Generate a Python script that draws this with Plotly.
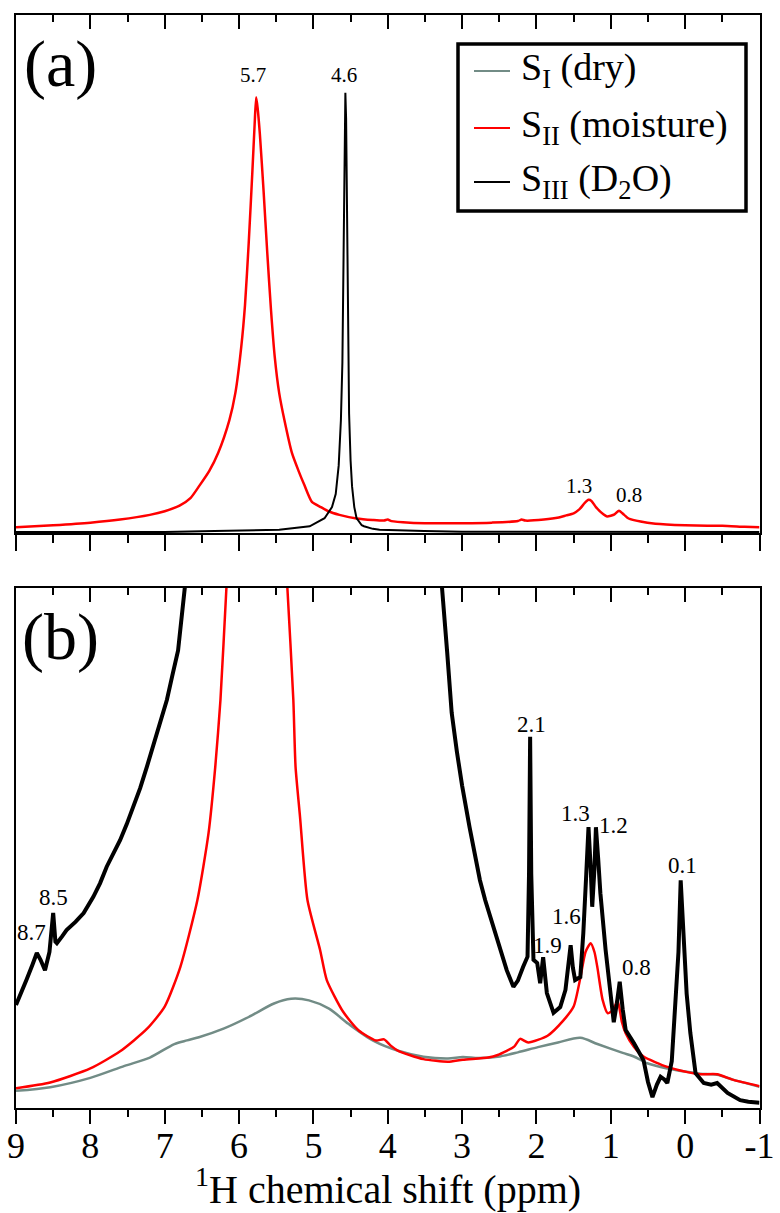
import plotly.graph_objects as go

# ---------------- data ----------------
# Panel (a): S_II (moisture), red
a_red_ppm = [9.0, 8.5, 8.0, 7.6, 7.2, 7.0, 6.8, 6.65, 6.53, 6.4, 6.28, 6.13, 6.05, 5.97, 5.92,
             5.87, 5.82, 5.79, 5.77, 5.75, 5.72, 5.67, 5.62, 5.57, 5.52, 5.46, 5.39, 5.29, 5.2,
             5.12, 5.02, 4.9, 4.8, 4.65, 4.42, 4.2, 4.05, 4.0, 3.95, 3.7, 3.4, 3.0, 2.6, 2.25,
             2.2, 2.15, 1.9, 1.7, 1.6, 1.5, 1.42, 1.35, 1.3, 1.26, 1.2, 1.1, 1.05, 0.95, 0.89,
             0.82, 0.76, 0.6, 0.4, 0.0, -0.3, -0.5, -0.8, -1.0]
a_red_int = [1.1, 1.5, 2.0, 2.6, 3.5, 4.2, 5.3, 6.8, 9.2, 12.0, 15.5, 21.8, 27.0, 36.0, 44.0,
             56.0, 70.0, 79.0, 84.1, 82.0, 77.0, 66.0, 54.0, 43.0, 34.0, 27.0, 21.8, 15.5, 12.0,
             9.2, 6.0, 5.0, 4.2, 3.5, 2.8, 2.5, 2.4, 2.6, 2.3, 2.0, 1.9, 1.9, 2.0, 2.3,
             2.6, 2.4, 2.6, 3.0, 3.4, 3.8, 4.6, 5.8, 6.4, 6.2, 5.0, 3.6, 3.2, 3.6, 4.3,
             3.5, 2.8, 2.2, 1.8, 1.5, 1.4, 1.4, 1.2, 1.1]

# Panel (a): S_III (D2O), black
a_black_ppm = [9.0, 7.0, 6.33, 5.46, 5.05, 4.85, 4.75, 4.7, 4.66, 4.63, 4.61, 4.595, 4.58, 4.57,
               4.56, 4.55, 4.535, 4.52, 4.5, 4.48, 4.45, 4.42, 4.35, 4.32, 4.2, 4.11, 3.51, 3.0, -1.0]
a_black_int = [0.2, 0.2, 0.4, 0.64, 1.3, 2.85, 5.0, 7.5, 13.0, 21.8, 33.0, 50.0, 72.0, 85.0,
               80.0, 65.0, 40.0, 23.0, 14.0, 9.0, 5.0, 2.9, 1.5, 1.3, 0.8, 0.64, 0.4, 0.25, 0.2]

# Panel (b): S_I (dry), grey
b_gray_ppm = [9.0, 8.54, 8.0, 7.54, 7.2, 6.87, 6.7, 6.54, 6.2, 5.87, 5.53, 5.3, 5.06, 4.79, 4.53,
              4.19, 3.86, 3.52, 3.19, 2.99, 2.78, 2.52, 2.25, 1.98, 1.71, 1.41, 1.18, 0.84, 0.69,
              0.51, 0.24, 0.0, -0.2, -0.43, -0.65, -1.0]
b_gray_int = [3.3, 4.0, 5.8, 8.1, 9.7, 12.3, 13.0, 13.6, 15.3, 17.5, 20.1, 21.0, 20.7, 19.1, 16.2,
              12.9, 11.0, 9.85, 9.5, 9.8, 9.6, 9.85, 10.7, 11.7, 12.6, 13.5, 12.3, 10.6, 9.9,
              8.6, 7.6, 7.0, 6.6, 6.4, 5.4, 4.1]

# Panel (b): S_II (moisture), red (zoomed, main peak runs off scale)
b_red_ppm = [9.0, 8.54, 8.0, 7.6, 7.24, 7.0, 6.79, 6.56, 6.41, 6.32, 6.25, 6.17, 6.1, 6.0, 5.77,
             5.5, 5.4, 5.35, 5.27, 5.24, 5.18, 5.08, 4.91, 4.82, 4.6, 4.39, 4.16, 4.05, 3.96,
             3.86, 3.52, 3.19, 2.99, 2.65, 2.52, 2.3, 2.22, 2.11, 1.85, 1.64, 1.5, 1.41, 1.34,
             1.27, 1.22, 1.18, 1.11, 1.04, 0.96, 0.91, 0.85, 0.8, 0.69, 0.56, 0.24, -0.03, -0.2,
             -0.43, -0.65, -1.0]
b_red_int = [3.8, 4.9, 7.6, 10.9, 15.2, 19.5, 27.1, 40.0, 52.9, 65.6, 78.5, 100.0, 118.0, 150.0, 450.0,
             150.0, 112.0, 100.0, 78.5, 65.6, 56.0, 40.0, 30.4, 24.6, 18.5, 14.9, 13.0, 13.2, 12.0,
             11.0, 9.4, 8.9, 9.3, 9.7, 10.2, 11.8, 13.3, 12.6, 13.9, 16.8, 19.5, 25.0, 30.0,
             31.7, 30.0, 27.0, 20.8, 18.2, 19.0, 20.8, 16.5, 14.4, 11.8, 9.9, 7.9, 6.9, 6.5,
             6.5, 5.4, 4.2]

# Panel (b): S_III (D2O), black (zoomed, main peak runs off scale)
b_black_ppm = [9.0, 8.93, 8.86, 8.78, 8.72, 8.67, 8.61, 8.55, 8.5, 8.47, 8.45, 8.38, 8.32, 8.2,
               8.09, 7.96, 7.87, 7.78, 7.69, 7.6, 7.51, 7.42, 7.33, 7.24, 7.17, 7.1, 7.03, 6.97,
               6.9, 6.82, 6.73, 6.6, 6.4, 4.57,
               3.5, 3.4, 3.27, 3.2, 3.14, 3.07, 3.0, 2.9, 2.83, 2.76, 2.69, 2.62, 2.55, 2.49,
               2.4, 2.31, 2.25, 2.18,
               2.12, 2.1, 2.085, 2.07, 2.04, 1.99, 1.95, 1.91, 1.86, 1.77, 1.68, 1.61, 1.57,
               1.54, 1.51, 1.48, 1.41, 1.37, 1.33, 1.3, 1.27, 1.25, 1.22, 1.2, 1.17, 1.14,
               1.07, 1.01, 0.96, 0.92, 0.88, 0.84, 0.8, 0.69, 0.56, 0.5, 0.44, 0.38, 0.33,
               0.28, 0.24, 0.18, 0.15, 0.12, 0.09, 0.06, 0.02, -0.02, -0.07, -0.14, -0.25,
               -0.35, -0.43, -0.5, -0.57, -0.74, -0.85, -1.0]
b_black_int = [19.8, 22.0, 24.6, 27.5, 29.8, 28.5, 26.5, 30.0, 37.5, 32.0, 31.7, 33.0, 34.2, 35.8,
               37.5, 40.6, 43.2, 46.4, 48.8, 51.5, 54.6, 57.9, 61.5, 65.6, 68.8, 72.1, 75.2, 78.5,
               83.0, 88.0, 100.0, 125.0, 170.0, 2000.0,
               170.0, 130.0, 100.0, 87.5, 76.0, 68.5, 62.0, 54.0, 48.5, 43.8, 40.0, 36.8, 33.4, 30.4,
               26.5, 23.3, 24.5, 27.1,
               29.1, 45.0, 71.4, 45.0, 28.5, 27.9, 24.0, 29.0, 22.1, 18.3, 19.4, 22.7, 27.0,
               31.3, 27.0, 24.6, 25.2, 33.6, 45.0, 54.0, 46.0, 38.7, 46.0, 54.0, 48.0, 41.3,
               30.4, 22.1, 16.5, 20.0, 24.3, 19.0, 15.0, 12.5, 9.2, 5.0, 2.1, 4.5, 6.0,
               5.5, 4.8, 9.0, 16.3, 22.0, 30.0, 43.8, 33.0, 22.0, 14.4, 6.7, 4.8,
               4.5, 4.8, 3.8, 2.9, 1.5, 1.2, 1.0]

legend_names = ["S<sub>I</sub> (dry)", "S<sub>II</sub> (moisture)", "S<sub>III</sub> (D<sub>2</sub>O)"]
a_peak_text = ["5.7", "4.6", "1.3", "0.8"]
b_peak_text = ["2.1", "1.3", "1.2", "0.1", "1.6", "1.9", "0.8", "8.5", "8.7"]
tick_vals = [9, 8, 7, 6, 5, 4, 3, 2, 1, 0, -1]
tick_text = ["9", "8", "7", "6", "5", "4", "3", "2", "1", "0", "-1"]
x_title = "<sup>1</sup>H chemical shift (ppm)"

# ---------------- styling / layout ----------------
FONT = "Liberation Serif"
GREY = "#728c86"
RED = "#ff0000"

fig = go.Figure()

# panel (b) traces
fig.add_trace(go.Scatter(x=b_gray_ppm, y=b_gray_int, mode="lines", name=legend_names[0],
                         line=dict(color=GREY, width=2.5, shape="spline", smoothing=0.8),
                         xaxis="x2", yaxis="y2"))
fig.add_trace(go.Scatter(x=b_red_ppm, y=b_red_int, mode="lines", name=legend_names[1],
                         line=dict(color=RED, width=2.5, shape="spline", smoothing=0.6),
                         xaxis="x2", yaxis="y2"))
fig.add_trace(go.Scatter(x=b_black_ppm, y=b_black_int, mode="lines", name=legend_names[2],
                         line=dict(color="black", width=4), xaxis="x2", yaxis="y2"))
# panel (a) traces
fig.add_trace(go.Scatter(x=a_red_ppm, y=a_red_int, mode="lines", name=legend_names[1],
                         line=dict(color=RED, width=2.5, shape="spline", smoothing=0.6),
                         xaxis="x", yaxis="y"))
fig.add_trace(go.Scatter(x=a_black_ppm, y=a_black_int, mode="lines", name=legend_names[2],
                         line=dict(color="black", width=2), xaxis="x", yaxis="y"))
# empty traces so the top (inward-tick) axes exist
fig.add_trace(go.Scatter(x=[], y=[], xaxis="x3", yaxis="y"))
fig.add_trace(go.Scatter(x=[], y=[], xaxis="x4", yaxis="y2"))

W, H = 780, 1213
xdom = [16 / W, 759.5 / W]
ya_dom = [1 - 533 / H, 1 - 15 / H]
yb_dom = [1 - 1108 / H, 1 - 588 / H]
XR = [9, -1]
MINOR = dict(tickmode="linear", dtick=0.5, tick0=0, tickwidth=1.6, tickcolor="black")

def bottom_axis(anchor, show_labels, ticklen):
    return dict(domain=xdom, anchor=anchor, range=XR, autorange=False,
                showline=True, mirror=True, linecolor="black", linewidth=2,
                ticks="outside", ticklen=ticklen, tickwidth=1.6, tickcolor="black",
                tickmode="array", tickvals=tick_vals, ticktext=tick_text,
                minor=dict(MINOR, ticks="outside", ticklen=ticklen / 2),
                showticklabels=show_labels, ticklabelstandoff=-9,
                showgrid=False, zeroline=False, automargin=False,
                tickfont=dict(family=FONT, size=36, color="black"))

def top_axis(overlay, anchor):
    return dict(domain=xdom, overlaying=overlay, anchor=anchor, side="top", range=XR,
                autorange=False, showline=False, ticks="inside", ticklen=14,
                tickwidth=1.6, tickcolor="black",
                tickmode="array", tickvals=tick_vals,
                minor=dict(MINOR, ticks="inside", ticklen=7),
                showticklabels=False, showgrid=False, zeroline=False, automargin=False)

def y_axis(dom, anchor):
    return dict(domain=dom, anchor=anchor, range=[0, 100], autorange=False,
                showline=True, mirror=True, linecolor="black", linewidth=2,
                ticks="", showticklabels=False, showgrid=False, zeroline=False,
                automargin=False)

def px_x(p):
    return p / W

def px_y(p):
    return 1 - p / H

annotations = []
shapes = []
# panel letters
for t, cy in (("(a)", 64), ("(b)", 637)):
    annotations.append(dict(text=t, x=px_x(60), y=px_y(cy), xref="paper", yref="paper",
                            xanchor="center", yanchor="middle", showarrow=False,
                            font=dict(family=FONT, size=66, color="black")))
# axis title
annotations.append(dict(text=x_title, x=px_x(388), y=px_y(1186), xref="paper", yref="paper",
                        xanchor="center", yanchor="middle", showarrow=False,
                        font=dict(family=FONT, size=40, color="black")))
# peak labels, panel (a)
a_lab_x = [5.81, 4.59, 1.43, 0.755]
a_lab_y = [88.4, 88.4, 9.1, 7.3]
for t, xx, yy in zip(a_peak_text, a_lab_x, a_lab_y):
    annotations.append(dict(text=t, x=xx, y=yy, xref="x", yref="y", showarrow=False,
                            xanchor="center", yanchor="middle",
                            font=dict(family=FONT, size=21, color="black")))
# peak labels, panel (b)
b_lab_x = [2.06, 1.48, 0.97, 0.03, 1.60, 1.845, 0.65, 8.50, 8.785]
b_lab_y = [73.7, 56.7, 54.4, 46.7, 36.9, 31.3, 27.1, 40.4, 33.8]
for t, xx, yy in zip(b_peak_text, b_lab_x, b_lab_y):
    annotations.append(dict(text=t, x=xx, y=yy, xref="x2", yref="y2", showarrow=False,
                            xanchor="center", yanchor="middle",
                            font=dict(family=FONT, size=23, color="black")))

# legend (drawn as a framed box with line samples and labels)
shapes.append(dict(type="rect", xref="paper", yref="paper",
                   x0=px_x(458), x1=px_x(746), y0=px_y(211), y1=px_y(44),
                   line=dict(color="black", width=3.5), fillcolor="white", layer="above"))
leg_colors = [GREY, RED, "black"]
leg_rows = [71, 128, 182]
for name, col, ry in zip(legend_names, leg_colors, leg_rows):
    shapes.append(dict(type="line", xref="paper", yref="paper",
                       x0=px_x(474), x1=px_x(510), y0=px_y(ry), y1=px_y(ry),
                       line=dict(color=col, width=2), layer="above"))
    annotations.append(dict(text=name, x=px_x(519), y=px_y(ry - 1), xref="paper", yref="paper",
                            xanchor="left", yanchor="middle", showarrow=False,
                            font=dict(family=FONT, size=38, color="black")))

fig.update_layout(
    width=W, height=H, autosize=False,
    margin=dict(l=0, r=0, t=0, b=0, pad=0),
    paper_bgcolor="white", plot_bgcolor="white",
    font=dict(family=FONT, color="black"),
    showlegend=False,
    xaxis=bottom_axis("y", False, 16), xaxis2=bottom_axis("y2", True, 14),
    xaxis3=top_axis("x", "y"), xaxis4=top_axis("x2", "y2"),
    yaxis=y_axis(ya_dom, "x"), yaxis2=y_axis(yb_dom, "x2"),
    annotations=annotations, shapes=shapes,
)

fig.write_html("out.html")
